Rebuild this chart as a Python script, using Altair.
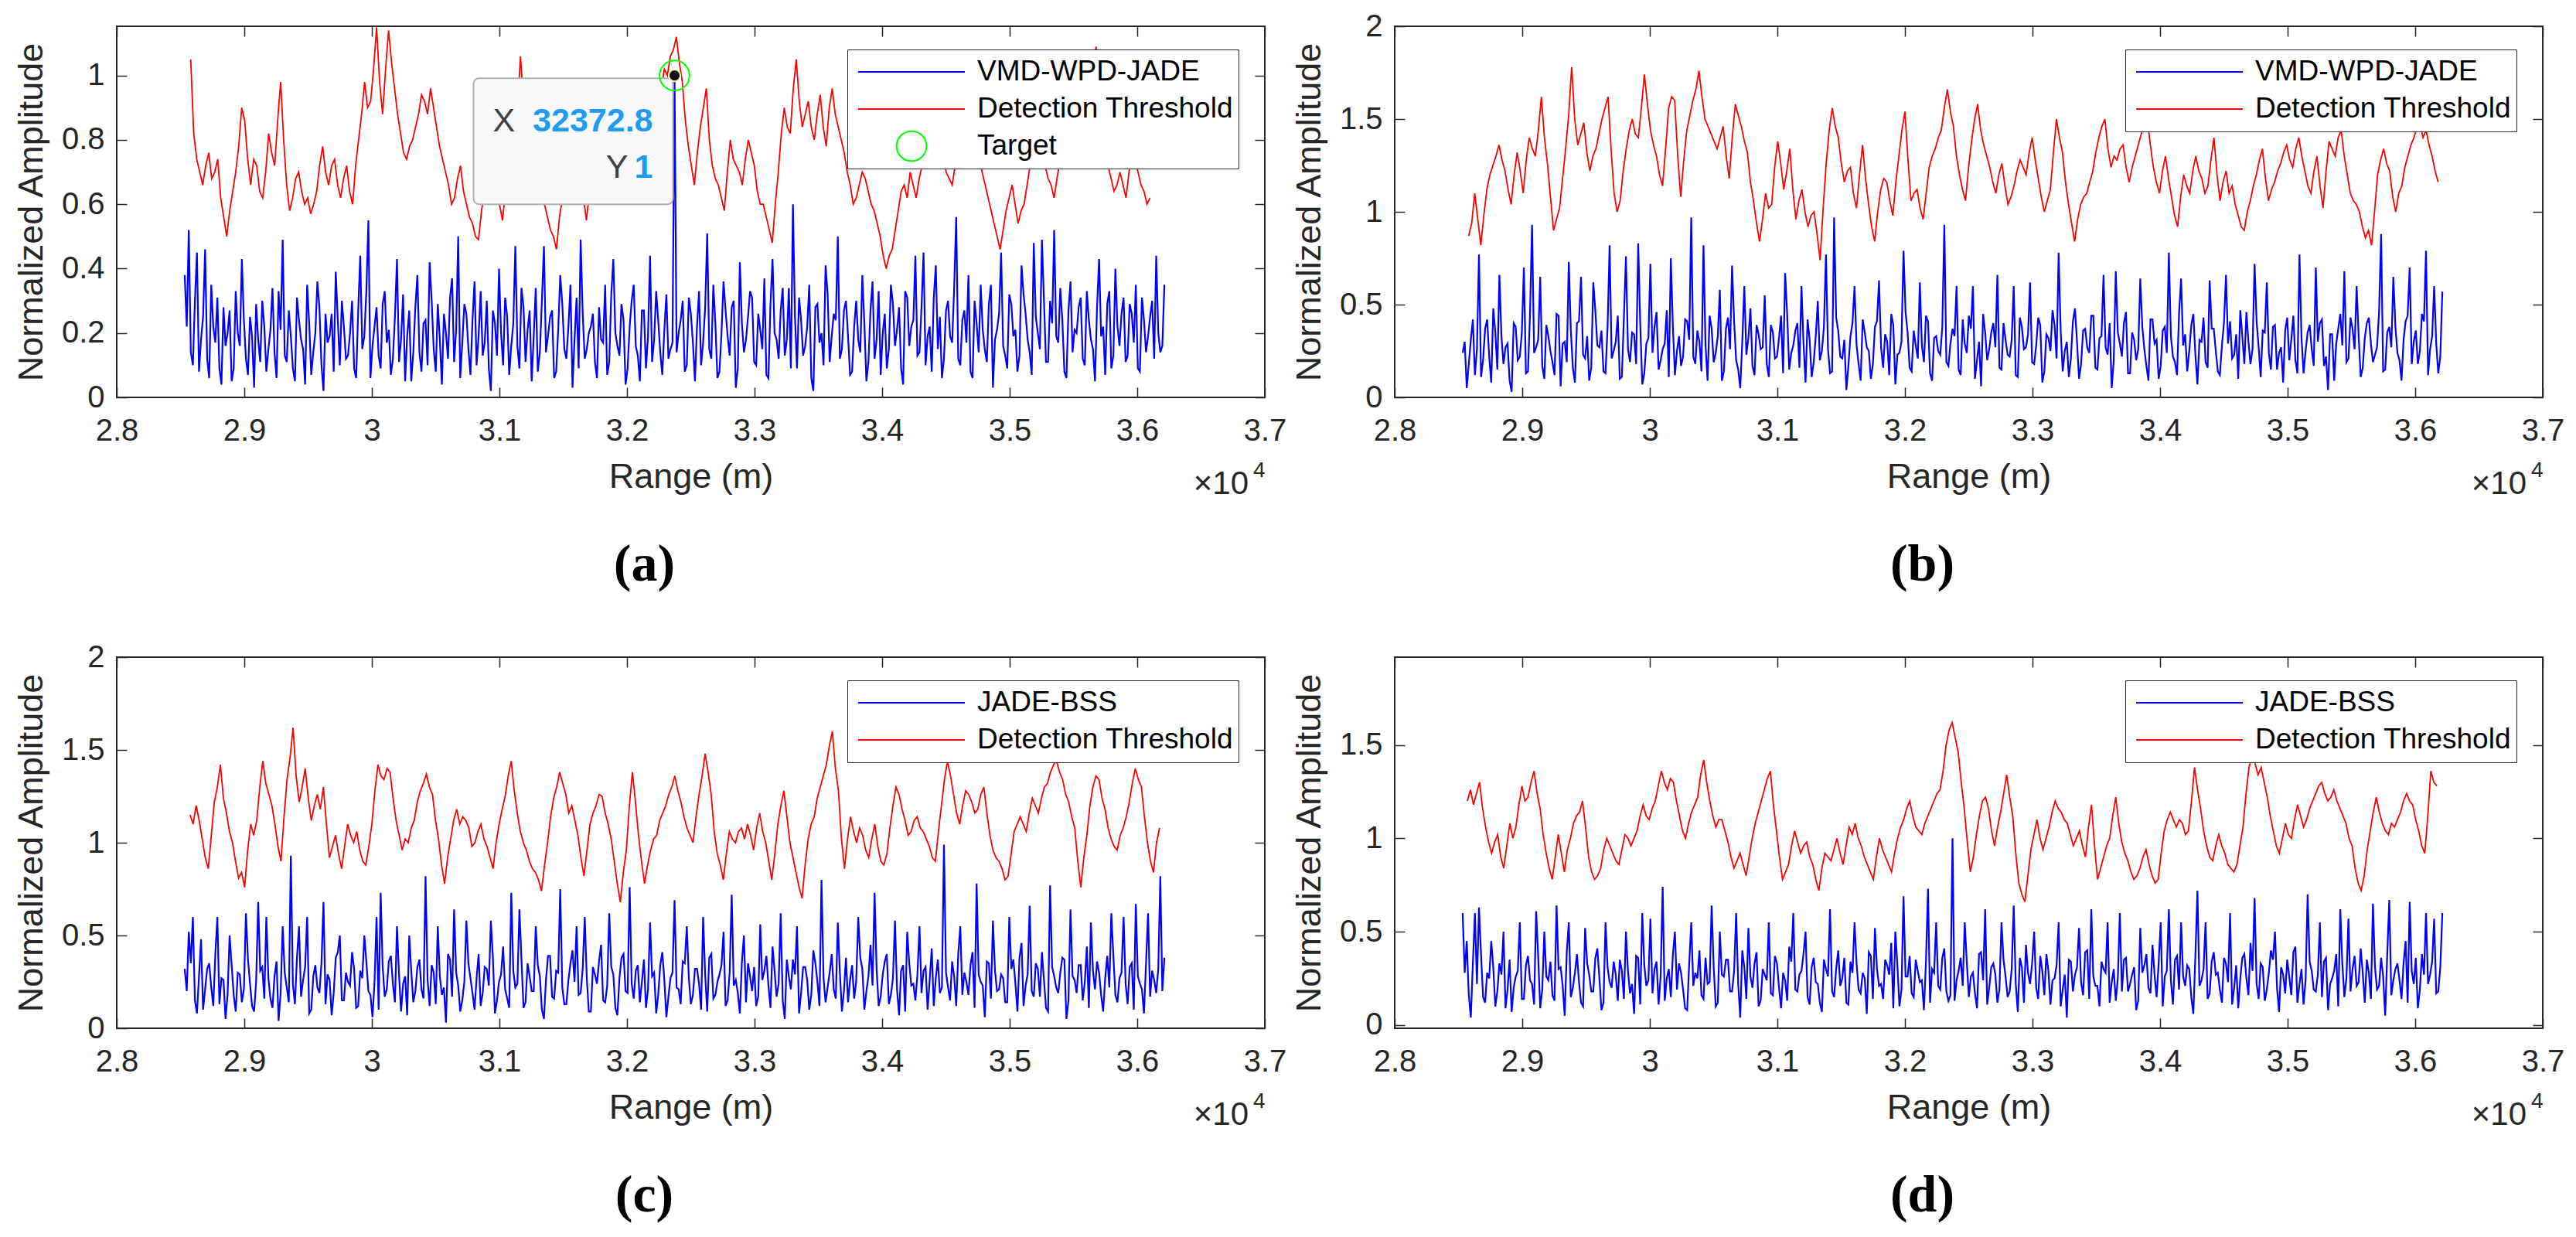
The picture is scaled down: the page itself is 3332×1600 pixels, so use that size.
import altair as alt
import pandas as pd

FONT = "Liberation Sans, Arial, Helvetica, sans-serif"
SERIF = "Liberation Serif, Times New Roman, serif"
TEXT_COLOR = "#262626"

W, H = 1485, 480
TICK = 13

X_DOMAIN = [28000, 37000]
X_TICKS = [28000, 29000, 30000, 31000, 32000, 33000, 34000, 35000, 36000, 37000]

Y_DOMAIN_A = [0, 1.153]
Y_TICKS_A = [0, 0.2, 0.4, 0.6, 0.8, 1.0]
Y_DOMAIN_B = [0, 2]
Y_TICKS_B = [0, 0.5, 1.0, 1.5, 2.0]
Y_DOMAIN_C = [0, 2]
Y_TICKS_C = [0, 0.5, 1.0, 1.5, 2.0]
Y_DOMAIN_D = [-0.017, 1.97]
Y_TICKS_D = [0, 0.5, 1.0, 1.5]

SERIES_TOP = "VMD-WPD-JADE"
SERIES_BOTTOM = "JADE-BSS"
THRESH = "Detection Threshold"
TARGET = "Target"
CAPTIONS = ["(a)", "(b)", "(c)", "(d)"]
EXP_BASE = "×10"
EXP_POWER = "4"

# range sampling grids (m); samples alternate between the main list and its *_mid list
BLUE_START = 28532.8
BLUE_STEP = 16.0
RED_START = {"a": 28580.0, "b": 28580.0, "c": 28575.0, "d": 28570.0}
RED_STEP = {"a": 23.5, "b": 23.75, "c": 23.75, "d": 23.75}

TARGET_X = [32372.8]
TARGET_Y = [1.0]

a_blue = [
    0.38, 0.52, 0.10, 0.45, 0.18, 0.46, 0.06, 0.22, 0.31, 0.04, 0.16, 0.27, 0.09, 0.20, 0.43, 0.12, 0.25, 0.03, 0.18, 0.30,
    0.08, 0.21, 0.14, 0.33, 0.49, 0.11, 0.19, 0.05, 0.24, 0.15, 0.35, 0.07, 0.20, 0.28, 0.02, 0.17, 0.26, 0.39, 0.10, 0.22,
    0.13, 0.30, 0.06, 0.44, 0.19, 0.55, 0.16, 0.28, 0.09, 0.33, 0.21, 0.12, 0.43, 0.18, 0.05, 0.27, 0.14, 0.38, 0.08, 0.24,
    0.42, 0.15, 0.29, 0.04, 0.20, 0.31, 0.11, 0.50, 0.17, 0.26, 0.07, 0.36, 0.19, 0.13, 0.30, 0.02, 0.23, 0.40, 0.10, 0.25,
    0.16, 0.47, 0.09, 0.28, 0.21, 0.05, 0.34, 0.14, 0.47, 0.19, 0.27, 0.08, 0.38, 0.15, 0.22, 0.03, 0.31, 0.49, 0.12, 0.20,
    0.26, 0.06, 0.18, 0.35, 0.11, 0.43, 0.16, 0.29, 0.04, 0.22, 0.35, 0.13, 0.27, 0.09, 0.44, 0.18, 0.24, 0.07, 0.32, 0.15,
    1.00,
    0.20, 0.30, 0.10, 0.26, 0.05, 0.33, 0.17, 0.51, 0.12, 0.23, 0.08, 0.36, 0.19, 0.28, 0.03, 0.42, 0.14, 0.25, 0.31,
    0.10, 0.21, 0.37, 0.06, 0.43, 0.18, 0.27, 0.13, 0.34, 0.60, 0.09, 0.24, 0.16, 0.35, 0.02, 0.29, 0.20, 0.41, 0.11, 0.26,
    0.50, 0.15, 0.30, 0.07, 0.22, 0.18, 0.38, 0.05, 0.27, 0.12, 0.33, 0.20, 0.09, 0.35, 0.16, 0.28, 0.04, 0.31, 0.22, 0.44,
    0.14, 0.45, 0.19, 0.08, 0.41, 0.25, 0.12, 0.30, 0.17, 0.56, 0.10, 0.27, 0.38, 0.06, 0.23, 0.35, 0.15, 0.29, 0.03, 0.21,
    0.45, 0.13, 0.32, 0.19, 0.08, 0.41, 0.26, 0.14, 0.48, 0.20, 0.49, 0.11, 0.30, 0.52, 0.17, 0.24, 0.06, 0.36, 0.21, 0.28,
    0.12, 0.33, 0.18, 0.05, 0.43, 0.22, 0.29, 0.09, 0.40, 0.16, 0.31, 0.13, 0.26, 0.35, 0.08, 0.24, 0.19, 0.30, 0.44, 0.14, 0.35,
]
a_mid = [
    0.22, 0.14, 0.30, 0.08, 0.25, 0.12, 0.35, 0.17, 0.09, 0.28, 0.20, 0.05, 0.33, 0.16, 0.24, 0.07, 0.19, 0.29, 0.11, 0.22,
    0.15, 0.34, 0.06, 0.21, 0.13, 0.27, 0.09, 0.31, 0.18, 0.04, 0.23, 0.14, 0.36, 0.10, 0.26, 0.19, 0.08, 0.24, 0.30, 0.12,
    0.20, 0.09, 0.27, 0.15, 0.33, 0.06, 0.22, 0.13, 0.29, 0.17, 0.07, 0.25, 0.11, 0.32, 0.19, 0.05, 0.28, 0.14, 0.23, 0.10,
    0.30, 0.08, 0.18, 0.26, 0.12, 0.37, 0.21, 0.06, 0.29, 0.15, 0.24, 0.10, 0.33, 0.17, 0.09, 0.27, 0.13, 0.20, 0.31, 0.07,
    0.23, 0.16, 0.34, 0.11, 0.27, 0.19, 0.08, 0.30, 0.14, 0.25, 0.06, 0.21, 0.29, 0.12, 0.35, 0.18, 0.09, 0.26, 0.15, 0.22,
    0.11, 0.28, 0.17, 0.07, 0.32, 0.20, 0.13, 0.24, 0.09, 0.30, 0.16, 0.05, 0.27, 0.19, 0.11, 0.33, 0.14, 0.21, 0.12, 0.17,
    0.14, 0.24, 0.08, 0.31, 0.17, 0.22, 0.10, 0.28, 0.15, 0.35, 0.06, 0.20, 0.27, 0.13, 0.30, 0.09, 0.23, 0.18, 0.33, 0.11,
    0.26, 0.15, 0.07, 0.29, 0.20, 0.12, 0.34, 0.18, 0.09, 0.25, 0.31, 0.13, 0.22, 0.06, 0.28, 0.17, 0.10, 0.32, 0.19, 0.24,
    0.12, 0.27, 0.19, 0.08, 0.30, 0.14, 0.23, 0.11, 0.36, 0.18, 0.07, 0.26, 0.15, 0.29, 0.21, 0.09, 0.33, 0.16, 0.24, 0.13,
    0.28, 0.10, 0.22, 0.31, 0.15, 0.06, 0.27, 0.19, 0.34, 0.12, 0.24, 0.17, 0.08, 0.30, 0.14, 0.21, 0.11, 0.35, 0.18, 0.26,
    0.16, 0.09, 0.29, 0.21, 0.13, 0.32, 0.18, 0.07, 0.25, 0.15, 0.30, 0.11, 0.23, 0.19, 0.34, 0.08, 0.27, 0.14, 0.20, 0.31,
    0.10, 0.24, 0.15, 0.28, 0.19, 0.07, 0.33, 0.13, 0.22, 0.26, 0.11, 0.29, 0.17, 0.09, 0.31, 0.14, 0.25, 0.12, 0.20, 0.16,
]

a_red = [
    1.05, 0.74, 0.66, 0.76, 0.70, 0.62, 0.50, 0.64, 0.78, 0.86,
    0.66, 0.72, 0.62, 0.82, 0.72, 0.98, 0.66, 0.62, 0.70, 0.60,
    0.57, 0.64, 0.78, 0.66, 0.74, 0.62, 0.72, 0.60, 0.80, 0.98,
    0.92, 1.15, 0.88, 1.14, 0.96, 0.82, 0.74, 0.80, 0.88, 0.92,
    0.96, 0.84, 0.74, 0.66, 0.62, 0.72, 0.60, 0.54, 0.49, 0.64,
    0.72, 0.64, 0.55, 0.70, 0.80, 1.06, 0.84, 0.72, 0.68, 0.60,
    0.52, 0.46, 0.62, 0.78, 0.99, 0.74, 0.55, 0.70, 0.80, 0.74,
    0.84, 0.76, 0.86, 0.78, 0.88, 0.82, 0.92, 0.86, 0.96, 1.02,
    1.06, 1.12, 0.98, 0.78, 0.66, 0.84, 0.96, 0.72, 0.66, 0.58,
    0.80, 0.72, 0.66, 0.80, 0.72, 0.60, 0.56, 0.48, 0.70, 0.90,
    0.82, 1.05, 0.84, 0.92, 0.80, 0.94, 0.78, 0.96, 0.84, 0.76,
    0.66, 0.62, 0.70, 0.64, 0.58, 0.50, 0.40, 0.46, 0.58, 0.66,
    0.70, 0.62, 0.72, 0.80, 0.90, 0.82, 0.70, 0.66, 0.76, 0.86,
    0.92, 0.80, 0.70, 0.62, 0.54, 0.46, 0.58, 0.66, 0.54, 0.60,
    0.72, 0.84, 0.76, 0.68, 0.62, 0.74, 0.86, 0.80, 0.92, 0.84,
    0.96, 1.09, 0.88, 0.72, 0.64, 0.70, 0.62, 0.78, 0.70, 0.64,
    0.62,
]
a_red_mid = [
    0.82, 0.70, 0.72, 0.68, 0.74, 0.56, 0.58, 0.70, 0.90, 0.74,
    0.74, 0.64, 0.70, 0.76, 0.86, 0.80, 0.58, 0.68, 0.64, 0.62,
    0.60, 0.72, 0.70, 0.72, 0.66, 0.68, 0.64, 0.72, 0.88, 0.90,
    1.02, 0.98, 1.02, 1.04, 0.88, 0.76, 0.78, 0.84, 0.94, 0.88,
    0.90, 0.78, 0.70, 0.60, 0.68, 0.64, 0.56, 0.50, 0.58, 0.68,
    0.66, 0.60, 0.64, 0.76, 0.90, 0.92, 0.76, 0.66, 0.64, 0.56,
    0.50, 0.56, 0.70, 0.88, 0.82, 0.62, 0.64, 0.76, 0.72, 0.80,
    0.78, 0.82, 0.80, 0.84, 0.80, 0.88, 0.84, 0.92, 0.96, 1.00,
    1.08, 1.04, 0.86, 0.72, 0.76, 0.90, 0.80, 0.68, 0.62, 0.70,
    0.74, 0.70, 0.74, 0.76, 0.64, 0.60, 0.52, 0.60, 0.82, 0.84,
    0.96, 0.92, 0.88, 0.84, 0.88, 0.84, 0.90, 0.88, 0.80, 0.70,
    0.60, 0.66, 0.68, 0.60, 0.54, 0.44, 0.44, 0.52, 0.64, 0.62,
    0.66, 0.68, 0.78, 0.84, 0.86, 0.76, 0.68, 0.72, 0.82, 0.90,
    0.86, 0.74, 0.66, 0.58, 0.50, 0.52, 0.62, 0.60, 0.58, 0.66,
    0.78, 0.80, 0.72, 0.66, 0.68, 0.80, 0.82, 0.86, 0.88, 0.90,
    1.00, 0.96, 0.80, 0.68, 0.66, 0.66, 0.70, 0.74, 0.66, 0.60,
]

b_blue = [
    0.24, 0.05, 0.31, 0.12, 0.77, 0.20, 0.42, 0.08, 0.35, 0.66, 0.18, 0.29, 0.03, 0.38, 0.22, 0.70, 0.14, 0.93, 0.27, 0.65,
    0.10, 0.33, 0.19, 0.45, 0.06, 0.30, 0.73, 0.16, 0.40, 0.65, 0.21, 0.09, 0.62, 0.28, 0.36, 0.13, 0.82, 0.25, 0.44, 0.11,
    0.76, 0.19, 0.34, 0.83, 0.07, 0.29, 0.72, 0.38, 0.15, 0.26, 0.47, 0.75, 0.12, 0.33, 0.22, 0.41, 0.97, 0.18, 0.30, 0.82,
    0.09, 0.37, 0.24, 0.58, 0.14, 0.43, 0.71, 0.20, 0.05, 0.60, 0.32, 0.17, 0.39, 0.26, 0.55, 0.11, 0.35, 0.22, 0.44, 0.67,
    0.15, 0.28, 0.40, 0.60, 0.08, 0.31, 0.19, 0.52, 0.25, 0.77, 0.13, 0.97, 0.36, 0.21, 0.04, 0.33, 0.60, 0.18, 0.42, 0.27,
    0.10, 0.38, 0.63, 0.16, 0.30, 0.45, 0.07, 0.24, 0.79, 0.35, 0.14, 0.28, 0.62, 0.19, 0.41, 0.09, 0.33, 0.23, 0.93, 0.17,
    0.37, 0.60, 0.12, 0.29, 0.44, 0.60, 0.20, 0.06, 0.35, 0.26, 0.40, 0.66, 0.15, 0.31, 0.22, 0.60, 0.11, 0.38, 0.27, 0.62,
    0.18, 0.43, 0.08, 0.34, 0.25, 0.39, 0.78, 0.14, 0.30, 0.21, 0.48, 0.10, 0.36, 0.27, 0.44, 0.16, 0.32, 0.66, 0.23, 0.05,
    0.68, 0.29, 0.40, 0.13, 0.35, 0.20, 0.64, 0.26, 0.09, 0.42, 0.31, 0.17, 0.38, 0.78, 0.22, 0.12, 0.64, 0.34, 0.25, 0.45,
    0.07, 0.30, 0.19, 0.63, 0.37, 0.14, 0.28, 0.66, 0.41, 0.23, 0.10, 0.33, 0.46, 0.18, 0.72, 0.27, 0.36, 0.62, 0.15, 0.39,
    0.24, 0.08, 0.43, 0.31, 0.20, 0.77, 0.13, 0.35, 0.26, 0.70, 0.40, 0.17, 0.04, 0.34, 0.29, 0.45, 0.68, 0.21, 0.37, 0.60,
    0.11, 0.32, 0.43, 0.19, 0.27, 0.88, 0.15, 0.38, 0.65, 0.24, 0.09, 0.41, 0.70, 0.30, 0.18, 0.45, 0.79, 0.26, 0.60, 0.13, 0.57,
]
b_mid = [
    0.30, 0.18, 0.42, 0.26, 0.11, 0.37, 0.22, 0.48, 0.15, 0.33, 0.27, 0.09, 0.40, 0.20, 0.35, 0.13, 0.45, 0.24, 0.31, 0.17,
    0.39, 0.25, 0.12, 0.44, 0.29, 0.19, 0.36, 0.08, 0.41, 0.23, 0.33, 0.16, 0.47, 0.27, 0.14, 0.38, 0.21, 0.30, 0.10, 0.43,
    0.26, 0.35, 0.18, 0.40, 0.13, 0.32, 0.24, 0.46, 0.20, 0.29, 0.11, 0.38, 0.25, 0.17, 0.42, 0.31, 0.22, 0.36, 0.14, 0.28,
    0.44, 0.19, 0.33, 0.09, 0.37, 0.26, 0.41, 0.15, 0.30, 0.23, 0.48, 0.12, 0.34, 0.27, 0.18, 0.39, 0.21, 0.32, 0.13, 0.45,
    0.24, 0.36, 0.16, 0.29, 0.42, 0.11, 0.33, 0.20, 0.38, 0.26, 0.14, 0.43, 0.22, 0.31, 0.17, 0.40, 0.28, 0.09, 0.35, 0.25,
    0.18, 0.41, 0.27, 0.34, 0.12, 0.39, 0.23, 0.30, 0.46, 0.16, 0.36, 0.21, 0.28, 0.44, 0.13, 0.32, 0.25, 0.38, 0.19, 0.29,
    0.33, 0.15, 0.42, 0.24, 0.37, 0.10, 0.30, 0.45, 0.20, 0.35, 0.27, 0.16, 0.40, 0.23, 0.31, 0.12, 0.43, 0.26, 0.34, 0.19,
    0.28, 0.39, 0.14, 0.32, 0.47, 0.21, 0.36, 0.25, 0.11, 0.41, 0.30, 0.18, 0.37, 0.24, 0.44, 0.15, 0.33, 0.27, 0.40, 0.20,
    0.35, 0.22, 0.46, 0.13, 0.31, 0.26, 0.38, 0.17, 0.42, 0.29, 0.10, 0.36, 0.24, 0.33, 0.19, 0.45, 0.28, 0.14, 0.39, 0.23,
    0.31, 0.43, 0.16, 0.37, 0.25, 0.12, 0.40, 0.29, 0.21, 0.34, 0.47, 0.18, 0.30, 0.26, 0.41, 0.11, 0.35, 0.24, 0.38, 0.15,
    0.27, 0.36, 0.20, 0.44, 0.13, 0.32, 0.25, 0.39, 0.17, 0.30, 0.42, 0.22, 0.34, 0.09, 0.37, 0.28, 0.19, 0.43, 0.26, 0.33,
    0.16, 0.40, 0.29, 0.23, 0.46, 0.14, 0.35, 0.27, 0.38, 0.20, 0.31, 0.44, 0.18, 0.36, 0.25, 0.41, 0.12, 0.33, 0.29, 0.22,
]

b_red = [
    0.87, 1.10, 0.82, 1.12, 1.25, 1.36, 1.22, 1.04, 1.32, 1.10,
    1.40, 1.30, 1.62, 1.26, 0.90, 1.02, 1.34, 1.78, 1.36, 1.48,
    1.22, 1.34, 1.50, 1.62, 1.10, 1.06, 1.34, 1.50, 1.40, 1.74,
    1.44, 1.30, 1.14, 1.56, 1.60, 1.08, 1.44, 1.60, 1.76, 1.50,
    1.42, 1.34, 1.46, 1.18, 1.58, 1.46, 1.32, 1.06, 0.84, 1.10,
    1.04, 1.38, 1.12, 1.34, 0.96, 1.12, 0.92, 1.00, 0.74, 1.26,
    1.56, 1.40, 1.16, 1.24, 1.02, 1.36, 1.04, 0.84, 1.12, 1.16,
    0.98, 1.30, 1.54, 1.06, 1.12, 0.96, 1.24, 1.34, 1.44, 1.66,
    1.46, 1.20, 1.06, 1.38, 1.58, 1.36, 1.24, 1.10, 1.26, 1.04,
    1.14, 1.28, 1.20, 1.40, 1.18, 1.00, 1.12, 1.50, 1.32, 1.04,
    0.84, 1.04, 1.10, 1.22, 1.40, 1.50, 1.24, 1.28, 1.36, 1.16,
    1.30, 1.42, 1.50, 1.24, 1.10, 1.30, 1.08, 0.92, 1.20, 1.10,
    1.30, 1.18, 1.14, 1.40, 1.06, 1.22, 1.14, 0.98, 0.90, 1.06,
    1.20, 1.34, 1.06, 1.16, 1.26, 1.36, 1.24, 1.40, 1.22, 1.10,
    1.30, 1.02, 1.38, 1.30, 1.44, 1.20, 1.06, 1.00, 0.86, 0.82,
    1.20, 1.34, 1.22, 1.00, 1.14, 1.30, 1.40, 1.48, 1.44, 1.30,
    1.16,
]
b_red_mid = [
    0.94, 0.96, 0.98, 1.20, 1.30, 1.28, 1.12, 1.20, 1.22, 1.28,
    1.34, 1.44, 1.40, 1.08, 0.96, 1.18, 1.52, 1.50, 1.42, 1.32,
    1.30, 1.42, 1.56, 1.34, 1.00, 1.22, 1.44, 1.42, 1.56, 1.58,
    1.36, 1.20, 1.34, 1.62, 1.30, 1.28, 1.52, 1.66, 1.62, 1.46,
    1.38, 1.40, 1.30, 1.40, 1.52, 1.38, 1.16, 0.94, 0.96, 1.02,
    1.24, 1.26, 1.22, 1.12, 1.06, 1.00, 0.98, 0.88, 1.02, 1.44,
    1.46, 1.26, 1.22, 1.10, 1.20, 1.18, 0.92, 1.00, 1.18, 1.06,
    1.16, 1.44, 1.28, 1.10, 1.02, 1.10, 1.30, 1.40, 1.56, 1.54,
    1.30, 1.12, 1.24, 1.50, 1.44, 1.30, 1.16, 1.20, 1.14, 1.08,
    1.22, 1.24, 1.32, 1.28, 1.08, 1.06, 1.32, 1.40, 1.16, 0.94,
    0.96, 1.08, 1.16, 1.32, 1.46, 1.34, 1.30, 1.34, 1.24, 1.24,
    1.36, 1.48, 1.36, 1.16, 1.22, 1.18, 0.98, 1.08, 1.14, 1.22,
    1.22, 1.10, 1.28, 1.20, 1.16, 1.10, 1.04, 0.92, 1.00, 1.14,
    1.28, 1.18, 1.12, 1.22, 1.32, 1.28, 1.34, 1.30, 1.14, 1.22,
    1.14, 1.22, 1.34, 1.40, 1.30, 1.10, 1.04, 0.92, 0.90, 1.00,
    1.28, 1.26, 1.08, 1.10, 1.24, 1.36, 1.46, 1.40, 1.36, 1.22,
]

c_blue = [
    0.32, 0.52, 0.60, 0.08, 0.48, 0.21, 0.35, 0.12, 0.60, 0.27, 0.05, 0.50, 0.18, 0.30, 0.14, 0.62, 0.24, 0.09, 0.68, 0.33,
    0.60, 0.16, 0.28, 0.04, 0.55, 0.22, 0.93, 0.13, 0.55, 0.26, 0.60, 0.10, 0.34, 0.19, 0.68, 0.29, 0.07, 0.38, 0.50, 0.15,
    0.25, 0.41, 0.11, 0.31, 0.50, 0.20, 0.06, 0.60, 0.73, 0.17, 0.36, 0.24, 0.55, 0.09, 0.28, 0.50, 0.14, 0.33, 0.21, 0.82,
    0.12, 0.30, 0.55, 0.18, 0.03, 0.37, 0.64, 0.23, 0.15, 0.58, 0.27, 0.10, 0.40, 0.19, 0.32, 0.58, 0.08, 0.25, 0.44, 0.16,
    0.73, 0.22, 0.64, 0.11, 0.35, 0.20, 0.55, 0.28, 0.05, 0.39, 0.17, 0.31, 0.75, 0.13, 0.26, 0.42, 0.55, 0.19, 0.60, 0.09,
    0.33, 0.24, 0.45, 0.14, 0.62, 0.29, 0.07, 0.38, 0.20, 0.76, 0.16, 0.34, 0.25, 0.11, 0.57, 0.30, 0.18, 0.41, 0.06, 0.27,
    0.69, 0.21, 0.36, 0.55, 0.13, 0.32, 0.24, 0.60, 0.09, 0.40, 0.18, 0.29, 0.52, 0.15, 0.72, 0.26, 0.08, 0.50, 0.35, 0.20,
    0.12, 0.56, 0.31, 0.23, 0.44, 0.17, 0.62, 0.05, 0.28, 0.37, 0.55, 0.19, 0.33, 0.10, 0.42, 0.25, 0.80, 0.14, 0.30, 0.21,
    0.57, 0.09, 0.38, 0.26, 0.16, 0.60, 0.32, 0.20, 0.45, 0.73, 0.12, 0.29, 0.40, 0.18, 0.58, 0.07, 0.34, 0.52, 0.23, 0.15,
    0.55, 0.31, 0.10, 0.43, 0.27, 0.19, 0.99, 0.22, 0.36, 0.12, 0.55, 0.30, 0.18, 0.41, 0.78, 0.25, 0.06, 0.35, 0.58, 0.20,
    0.29, 0.14, 0.60, 0.37, 0.09, 0.46, 0.23, 0.66, 0.17, 0.32, 0.41, 0.11, 0.77, 0.28, 0.19, 0.38, 0.05, 0.64, 0.26, 0.34,
    0.15, 0.44, 0.57, 0.21, 0.30, 0.09, 0.39, 0.62, 0.18, 0.27, 0.60, 0.13, 0.35, 0.67, 0.24, 0.08, 0.62, 0.31, 0.19, 0.82, 0.38,
]
c_mid = [
    0.20, 0.35, 0.15, 0.28, 0.10, 0.32, 0.22, 0.40, 0.13, 0.26, 0.18, 0.34, 0.09, 0.29, 0.21, 0.37, 0.12, 0.25, 0.31, 0.16,
    0.27, 0.11, 0.36, 0.19, 0.30, 0.14, 0.24, 0.38, 0.17, 0.33, 0.08, 0.28, 0.22, 0.35, 0.13, 0.26, 0.19, 0.41, 0.15, 0.30,
    0.23, 0.32, 0.12, 0.27, 0.36, 0.18, 0.25, 0.10, 0.33, 0.21, 0.39, 0.14, 0.29, 0.24, 0.07, 0.31, 0.20, 0.37, 0.16, 0.26,
    0.34, 0.13, 0.28, 0.22, 0.40, 0.17, 0.30, 0.09, 0.25, 0.35, 0.19, 0.27, 0.12, 0.33, 0.23, 0.38, 0.15, 0.29, 0.21, 0.11,
    0.31, 0.24, 0.37, 0.14, 0.28, 0.20, 0.34, 0.10, 0.26, 0.39, 0.16, 0.30, 0.22, 0.13, 0.35, 0.25, 0.18, 0.32, 0.27, 0.09,
    0.29, 0.36, 0.15, 0.23, 0.33, 0.11, 0.27, 0.40, 0.19, 0.24, 0.31, 0.14, 0.37, 0.21, 0.28, 0.08, 0.34, 0.26, 0.17, 0.30,
    0.22, 0.13, 0.35, 0.27, 0.18, 0.32, 0.10, 0.29, 0.38, 0.16, 0.25, 0.34, 0.12, 0.30, 0.23, 0.19, 0.36, 0.14, 0.28, 0.33,
    0.17, 0.26, 0.39, 0.11, 0.31, 0.24, 0.15, 0.37, 0.21, 0.29, 0.08, 0.33, 0.26, 0.18, 0.35, 0.12, 0.27, 0.22, 0.40, 0.16,
    0.30, 0.20, 0.14, 0.34, 0.25, 0.38, 0.10, 0.28, 0.23, 0.32, 0.17, 0.36, 0.13, 0.27, 0.21, 0.31, 0.09, 0.35, 0.24, 0.29,
    0.19, 0.33, 0.26, 0.12, 0.37, 0.22, 0.30, 0.15, 0.28, 0.40, 0.18, 0.25, 0.34, 0.11, 0.29, 0.23, 0.36, 0.16, 0.31, 0.21,
    0.27, 0.14, 0.32, 0.24, 0.38, 0.12, 0.29, 0.20, 0.35, 0.17, 0.26, 0.09, 0.33, 0.22, 0.30, 0.37, 0.15, 0.28, 0.19, 0.34,
    0.25, 0.11, 0.31, 0.36, 0.18, 0.27, 0.22, 0.39, 0.14, 0.30, 0.24, 0.33, 0.10, 0.28, 0.21, 0.35, 0.17, 0.26, 0.32, 0.20,
]

c_red = [
    1.15, 1.20, 1.02, 0.86, 1.22, 1.42, 1.16, 1.00, 0.81, 0.76,
    1.10, 1.12, 1.44, 1.26, 1.10, 0.90, 1.34, 1.62, 1.22, 1.40,
    1.12, 1.26, 1.30, 0.92, 1.04, 0.86, 1.10, 1.00, 0.96, 0.88,
    1.10, 1.42, 1.34, 1.38, 1.12, 0.96, 1.00, 1.12, 1.28, 1.37,
    1.26, 1.02, 0.78, 1.02, 1.18, 1.14, 1.08, 1.00, 1.10, 0.98,
    0.86, 1.10, 1.25, 1.44, 1.16, 1.00, 0.90, 0.84, 0.74, 1.00,
    1.24, 1.38, 1.26, 1.20, 1.04, 0.82, 1.10, 1.20, 1.25, 1.10,
    0.90, 0.68, 0.96, 1.38, 1.04, 0.78, 0.96, 1.04, 1.16, 1.26,
    1.36, 1.22, 1.08, 1.00, 1.26, 1.48, 1.26, 0.94, 0.80, 1.06,
    1.00, 1.08, 1.10, 0.96, 1.16, 1.00, 0.80, 1.10, 1.28, 1.00,
    0.84, 0.70, 1.02, 1.14, 1.30, 1.42, 1.60, 1.28, 0.86, 1.14,
    1.00, 1.04, 0.92, 1.10, 0.90, 0.94, 1.20, 1.26, 1.12, 1.06,
    1.14, 1.06, 0.98, 0.90, 1.20, 1.44, 1.26, 1.10, 1.28, 1.22,
    1.18, 1.30, 1.04, 0.92, 0.86, 0.82, 1.06, 1.14, 1.06, 1.24,
    1.16, 1.30, 1.38, 1.44, 1.34, 1.22, 1.08, 0.76, 1.04, 1.30,
    1.34, 1.18, 1.02, 0.96, 1.08, 1.22, 1.40, 1.30, 1.00, 0.84,
    1.08,
]
c_red_mid = [
    1.10, 1.12, 0.92, 1.04, 1.30, 1.24, 1.06, 0.90, 0.84, 0.96,
    1.04, 1.30, 1.32, 1.20, 0.98, 1.14, 1.46, 1.36, 1.30, 1.24,
    1.20, 1.18, 1.10, 0.98, 0.94, 0.98, 1.04, 1.06, 0.90, 0.98,
    1.28, 1.36, 1.40, 1.24, 1.04, 1.02, 1.08, 1.22, 1.32, 1.30,
    1.12, 0.88, 0.92, 1.12, 1.10, 1.12, 0.98, 1.06, 1.02, 0.92,
    1.00, 1.18, 1.36, 1.28, 1.06, 0.96, 0.86, 0.80, 0.88, 1.14,
    1.30, 1.32, 1.16, 1.12, 0.92, 0.96, 1.16, 1.26, 1.16, 1.02,
    0.78, 0.84, 1.20, 1.22, 0.90, 0.88, 1.02, 1.12, 1.20, 1.30,
    1.28, 1.14, 1.04, 1.14, 1.36, 1.38, 1.06, 0.88, 0.94, 1.02,
    1.06, 1.02, 1.04, 1.08, 1.06, 0.90, 0.94, 1.20, 1.14, 0.92,
    0.76, 0.88, 1.10, 1.24, 1.36, 1.52, 1.40, 1.02, 1.02, 1.06,
    1.08, 0.96, 1.02, 0.98, 0.88, 1.08, 1.30, 1.18, 1.04, 1.12,
    1.08, 1.02, 0.92, 1.06, 1.34, 1.36, 1.16, 1.20, 1.26, 1.16,
    1.26, 1.16, 0.96, 0.90, 0.80, 0.94, 1.10, 1.10, 1.16, 1.20,
    1.24, 1.32, 1.42, 1.38, 1.26, 1.14, 0.90, 0.92, 1.20, 1.36,
    1.24, 1.08, 0.98, 1.04, 1.14, 1.32, 1.34, 1.14, 0.90, 1.00,
]

d_blue = [
    0.60, 0.45, 0.04, 0.60, 0.63, 0.15, 0.28, 0.45, 0.10, 0.33, 0.50, 0.19, 0.07, 0.26, 0.55, 0.14, 0.37, 0.22, 0.61, 0.09,
    0.50, 0.24, 0.16, 0.64, 0.31, 0.05, 0.55, 0.20, 0.38, 0.12, 0.52, 0.27, 0.18, 0.41, 0.08, 0.55, 0.23, 0.34, 0.13, 0.29,
    0.50, 0.17, 0.06, 0.36, 0.60, 0.21, 0.57, 0.30, 0.11, 0.74, 0.25, 0.15, 0.50, 0.33, 0.19, 0.08, 0.55, 0.28, 0.40, 0.14,
    0.22, 0.64, 0.10, 0.50, 0.26, 0.35, 0.18, 0.60, 0.04, 0.31, 0.52, 0.20, 0.39, 0.13, 0.27, 0.55, 0.16, 0.33, 0.09, 0.24,
    0.42, 0.60, 0.18, 0.29, 0.50, 0.11, 0.36, 0.22, 0.07, 0.30, 0.62, 0.15, 0.40, 0.25, 0.12, 0.34, 0.55, 0.19, 0.28, 0.06,
    0.37, 0.52, 0.21, 0.14, 0.32, 0.44, 0.50, 0.10, 0.69, 0.26, 0.17, 0.35, 0.23, 0.08, 0.73, 0.30, 0.55, 0.19, 0.41, 0.13,
    1.00, 0.24, 0.36, 0.55, 0.15, 0.28, 0.09, 0.39, 0.62, 0.20, 0.33, 0.12, 0.55, 0.26, 0.18, 0.64, 0.07, 0.31, 0.43, 0.22,
    0.50, 0.14, 0.29, 0.38, 0.11, 0.25, 0.55, 0.19, 0.04, 0.34, 0.27, 0.52, 0.16, 0.40, 0.62, 0.21, 0.10, 0.30, 0.55, 0.23,
    0.13, 0.60, 0.35, 0.18, 0.27, 0.08, 0.52, 0.32, 0.20, 0.43, 0.15, 0.55, 0.26, 0.62, 0.11, 0.37, 0.55, 0.21, 0.30, 0.06,
    0.72, 0.24, 0.55, 0.17, 0.39, 0.28, 0.12, 0.33, 0.60, 0.20, 0.09, 0.36, 0.25, 0.44, 0.68, 0.14, 0.31, 0.19, 0.40, 0.50,
    0.07, 0.27, 0.35, 0.16, 0.42, 0.22, 0.11, 0.70, 0.29, 0.18, 0.55, 0.34, 0.08, 0.25, 0.38, 0.62, 0.15, 0.57, 0.30, 0.21,
    0.41, 0.12, 0.28, 0.65, 0.19, 0.36, 0.05, 0.67, 0.24, 0.33, 0.14, 0.45, 0.66, 0.22, 0.09, 0.38, 0.60, 0.27, 0.57, 0.18, 0.60,
]
d_mid = [
    0.28, 0.16, 0.33, 0.22, 0.38, 0.12, 0.25, 0.31, 0.18, 0.27, 0.09, 0.35, 0.20, 0.29, 0.14, 0.32, 0.24, 0.11, 0.37, 0.19,
    0.26, 0.34, 0.13, 0.30, 0.21, 0.39, 0.15, 0.28, 0.23, 0.10, 0.33, 0.18, 0.36, 0.25, 0.12, 0.31, 0.20, 0.27, 0.35, 0.14,
    0.29, 0.22, 0.37, 0.11, 0.32, 0.24, 0.17, 0.34, 0.26, 0.13, 0.30, 0.38, 0.19, 0.28, 0.09, 0.33, 0.21, 0.25, 0.16, 0.36,
    0.23, 0.31, 0.12, 0.27, 0.35, 0.18, 0.29, 0.22, 0.40, 0.14, 0.26, 0.33, 0.10, 0.30, 0.24, 0.17, 0.37, 0.20, 0.28, 0.13,
    0.34, 0.19, 0.27, 0.38, 0.15, 0.31, 0.23, 0.12, 0.35, 0.26, 0.18, 0.30, 0.21, 0.36, 0.11, 0.28, 0.33, 0.17, 0.25, 0.39,
    0.14, 0.30, 0.22, 0.35, 0.27, 0.09, 0.32, 0.19, 0.26, 0.37, 0.15, 0.29, 0.24, 0.34, 0.12, 0.28, 0.21, 0.36, 0.18, 0.16,
    0.13, 0.29, 0.21, 0.34, 0.26, 0.17, 0.38, 0.24, 0.11, 0.31, 0.27, 0.19, 0.35, 0.15, 0.30, 0.22, 0.36, 0.12, 0.28, 0.33,
    0.20, 0.37, 0.16, 0.29, 0.24, 0.32, 0.10, 0.27, 0.35, 0.18, 0.31, 0.23, 0.39, 0.14, 0.26, 0.21, 0.34, 0.28, 0.12, 0.30,
    0.25, 0.18, 0.36, 0.22, 0.31, 0.13, 0.28, 0.38, 0.17, 0.27, 0.33, 0.10, 0.29, 0.24, 0.35, 0.19, 0.26, 0.32, 0.15, 0.37,
    0.21, 0.30, 0.14, 0.34, 0.27, 0.19, 0.36, 0.23, 0.11, 0.32, 0.25, 0.38, 0.16, 0.29, 0.22, 0.33, 0.13, 0.28, 0.35, 0.20,
    0.31, 0.17, 0.26, 0.39, 0.12, 0.30, 0.24, 0.34, 0.19, 0.27, 0.15, 0.36, 0.22, 0.29, 0.10, 0.33, 0.25, 0.18, 0.37, 0.23,
    0.28, 0.35, 0.14, 0.31, 0.21, 0.26, 0.38, 0.16, 0.30, 0.24, 0.33, 0.12, 0.29, 0.36, 0.19, 0.27, 0.22, 0.34, 0.17, 0.31,
]

d_red = [
    1.20, 1.18, 1.30, 1.06, 0.92, 1.02, 0.84, 1.08, 1.06, 1.28,
    1.22, 1.36, 1.16, 0.92, 0.78, 1.02, 0.82, 1.00, 1.12, 1.20,
    0.90, 0.78, 0.84, 1.00, 0.92, 0.86, 1.02, 0.96, 1.04, 1.18,
    1.10, 1.20, 1.36, 1.26, 1.30, 1.12, 1.00, 1.14, 1.22, 1.42,
    1.20, 1.06, 1.10, 0.98, 0.84, 0.92, 0.80, 1.00, 1.14, 1.26,
    1.36, 1.04, 0.78, 0.86, 1.04, 0.92, 0.98, 0.86, 0.72, 0.92,
    0.88, 1.00, 0.86, 1.06, 1.08, 0.96, 0.86, 0.78, 1.00, 0.90,
    0.82, 1.00, 1.10, 1.20, 1.06, 1.02, 1.12, 1.20, 1.26, 1.50,
    1.62, 1.46, 1.16, 0.82, 1.02, 1.20, 1.16, 0.96, 1.14, 1.34,
    1.12, 0.76, 0.66, 0.94, 1.10, 0.94, 1.06, 1.20, 1.14, 1.08,
    0.96, 1.04, 0.90, 1.18, 0.78, 0.90, 1.00, 1.22, 0.98, 0.88,
    0.78, 0.84, 0.94, 0.80, 0.78, 1.04, 1.14, 1.06, 1.08, 1.04,
    1.38, 1.16, 0.96, 0.88, 1.02, 0.92, 0.84, 0.86, 1.06, 1.38,
    1.40, 1.38, 1.22, 1.04, 0.92, 1.08, 1.00, 1.18, 1.06, 1.16,
    1.24, 1.30, 1.20, 1.26, 1.16, 1.08, 0.96, 0.76, 0.80, 1.04,
    1.22, 1.08, 1.02, 1.06, 1.14, 1.24, 1.18, 1.04, 0.92, 1.36,
    1.28,
]
d_red_mid = [
    1.26, 1.24, 1.16, 0.98, 0.98, 0.90, 0.96, 1.00, 1.18, 1.20,
    1.30, 1.24, 1.02, 0.84, 0.90, 0.92, 0.94, 1.08, 1.14, 1.06,
    0.82, 0.80, 0.94, 0.96, 0.88, 0.94, 1.00, 1.00, 1.12, 1.12,
    1.16, 1.28, 1.30, 1.32, 1.20, 1.04, 1.08, 1.18, 1.34, 1.30,
    1.12, 1.10, 1.04, 0.90, 0.88, 0.86, 0.90, 1.08, 1.20, 1.32,
    1.18, 0.90, 0.82, 0.96, 0.98, 0.96, 0.90, 0.78, 0.84, 0.90,
    0.94, 0.92, 0.96, 1.02, 1.00, 0.90, 0.82, 0.90, 0.94, 0.86,
    0.92, 1.06, 1.16, 1.12, 1.04, 1.08, 1.16, 1.24, 1.36, 1.58,
    1.54, 1.30, 0.98, 0.90, 1.12, 1.22, 1.04, 1.06, 1.24, 1.22,
    0.92, 0.70, 0.80, 1.02, 1.00, 1.00, 1.14, 1.16, 1.10, 1.02,
    1.00, 0.96, 1.06, 0.96, 0.84, 0.96, 1.12, 1.08, 0.92, 0.82,
    0.80, 0.90, 0.86, 0.76, 0.92, 1.10, 1.10, 1.10, 1.02, 1.20,
    1.26, 1.04, 0.90, 0.96, 0.96, 0.86, 0.82, 0.96, 1.24, 1.44,
    1.34, 1.30, 1.12, 0.96, 1.00, 1.02, 1.10, 1.12, 1.10, 1.20,
    1.28, 1.24, 1.22, 1.20, 1.12, 1.00, 0.84, 0.72, 0.94, 1.14,
    1.14, 1.04, 1.08, 1.10, 1.20, 1.20, 1.10, 0.96, 1.12, 1.30,
]


def series_df(start, step, main_vals, mid_vals, name):
    ys = []
    for i, v in enumerate(main_vals):
        ys.append(v)
        if i < len(mid_vals):
            ys.append(mid_vals[i])
    return pd.DataFrame({
        "x": [start + step * k for k in range(len(ys))],
        "y": ys,
        "series": [name] * len(ys),
    })


def panel(blue_vals, mid_vals, red_vals, red_mid_vals, key, blue_name, ydom, yticks,
          caption, with_target=False):
    names = [blue_name, THRESH] + ([TARGET] if with_target else [])
    colors = ["#0000ff", "#ff0000"] + (["#00ff00"] if with_target else [])
    legend = alt.Legend(title=None, orient="none", legendX=945, legendY=30)
    color = alt.Color("series:N", scale=alt.Scale(domain=names, range=colors), legend=legend)
    xs = alt.Scale(domain=X_DOMAIN, nice=False, zero=False)
    ys = alt.Scale(domain=ydom, nice=False, zero=False)

    ax_bottom = alt.Axis(orient="bottom", values=X_TICKS,
                         labelExpr="format(datum.value / 10000, '~g')",
                         offset=-TICK, tickSize=TICK, domain=False, grid=False,
                         labelPadding=23, labelOverlap=False, labelFlush=False,
                         title="Range (m)", titleX=W / 2, titleY=116 + TICK,
                         titleBaseline="alphabetic")
    ax_left = alt.Axis(orient="left", values=yticks, format="~g",
                       offset=-TICK, tickSize=TICK, domain=False, grid=False,
                       labelPadding=16, labelOverlap=False, labelFlush=False,
                       title="Normalized Amplitude", titleX=-97 - TICK, titleY=H / 2,
                       titleBaseline="alphabetic")
    ax_top = alt.Axis(orient="top", values=X_TICKS, labels=False, offset=-TICK,
                      tickSize=TICK, domain=False, grid=False, title=None)
    ax_right = alt.Axis(orient="right", values=yticks, labels=False, offset=-TICK,
                        tickSize=TICK, domain=False, grid=False, title=None)

    blue = alt.Chart(series_df(BLUE_START, BLUE_STEP, blue_vals, mid_vals, blue_name)).mark_line(
        strokeWidth=2.2).encode(
        x=alt.X("x:Q", scale=xs, axis=ax_bottom),
        y=alt.Y("y:Q", scale=ys, axis=ax_left),
        color=color)
    red = alt.Chart(series_df(RED_START[key], RED_STEP[key], red_vals, red_mid_vals, THRESH)).mark_line(
        strokeWidth=1.8).encode(
        x=alt.X("x:Q", scale=xs, axis=ax_top),
        y=alt.Y("y:Q", scale=ys, axis=ax_right),
        color=color)
    layers = [blue, red]

    if with_target:
        tdf = pd.DataFrame({"x": TARGET_X, "y": TARGET_Y, "series": [TARGET]})
        base = alt.Chart(tdf)
        ex = alt.X("x:Q", scale=xs, axis=None)
        ey = alt.Y("y:Q", scale=ys, axis=None)
        shape = alt.Shape("series:N", scale=alt.Scale(domain=names, range=["stroke", "stroke", "circle"]),
                          legend=legend)
        size = alt.Size("series:N", scale=alt.Scale(type="ordinal", domain=names,
                                                    range=[19044, 19044, 1500]),
                        legend=legend)
        tip_box = base.mark_rect(width=258, height=163, xOffset=-131, yOffset=85,
                                 cornerRadius=7, fill="#f9f9fb", stroke="#b0b0b0",
                                 strokeWidth=2).encode(x=ex, y=ey)
        ring = base.mark_point(filled=False, strokeWidth=2, opacity=1).encode(
            x=ex, y=ey, color=color, shape=shape, size=size)
        dot = base.mark_point(shape="circle", filled=True, size=230, fill="#141414",
                              stroke="#fff6c8", strokeWidth=2, opacity=1).encode(x=ex, y=ey)
        t1 = base.mark_text(align="left", baseline="alphabetic", dx=-235, dy=72,
                            font=FONT, fontSize=43, color="#404040").encode(
            x=ex, y=ey, text=alt.value("X"))
        t2 = base.mark_text(align="right", baseline="alphabetic", dx=-28, dy=72,
                            font=FONT, fontSize=43, fontWeight="bold", color="#1c9cf2").encode(
            x=ex, y=ey, text=alt.Text("x:Q", format=".1f"))
        t3 = base.mark_text(align="right", baseline="alphabetic", dx=-60, dy=132,
                            font=FONT, fontSize=43, color="#404040").encode(
            x=ex, y=ey, text=alt.value("Y"))
        t4 = base.mark_text(align="right", baseline="alphabetic", dx=-28, dy=132,
                            font=FONT, fontSize=43, fontWeight="bold", color="#1c9cf2").encode(
            x=ex, y=ey, text=alt.Text("y:Q", format="~g"))
        layers += [tip_box, ring, dot, t1, t2, t3, t4]

    exp1 = alt.Chart(pd.DataFrame({"t": [EXP_BASE]})).mark_text(
        align="right", baseline="alphabetic", font=FONT, fontSize=42, color=TEXT_COLOR).encode(
        x=alt.value(W - 21), y=alt.value(H + 125), text="t:N")
    exp2 = alt.Chart(pd.DataFrame({"t": [EXP_POWER]})).mark_text(
        align="left", baseline="alphabetic", font=FONT, fontSize=28, color=TEXT_COLOR).encode(
        x=alt.value(W - 15), y=alt.value(H + 103), text="t:N")
    layers += [exp1, exp2]

    title = alt.TitleParams(caption, orient="bottom", anchor="middle", frame="group",
                            dx=-60, offset=50, font=SERIF, fontSize=68,
                            fontWeight="bold", color="black")
    return alt.layer(*layers).resolve_scale(x="shared", y="shared").resolve_axis(
        x="independent", y="independent").properties(width=W, height=H, title=title)


pa = panel(a_blue, a_mid, a_red, a_red_mid, "a", SERIES_TOP, Y_DOMAIN_A, Y_TICKS_A,
           CAPTIONS[0], with_target=True)
pb = panel(b_blue, b_mid, b_red, b_red_mid, "b", SERIES_TOP, Y_DOMAIN_B, Y_TICKS_B, CAPTIONS[1])
pc = panel(c_blue, c_mid, c_red, c_red_mid, "c", SERIES_BOTTOM, Y_DOMAIN_C, Y_TICKS_C, CAPTIONS[2])
pd_ = panel(d_blue, d_mid, d_red, d_red_mid, "d", SERIES_BOTTOM, Y_DOMAIN_D, Y_TICKS_D, CAPTIONS[3])

row1 = alt.hconcat(pa, pb, spacing=168, bounds="flush").resolve_scale(
    color="independent", shape="independent", size="independent")
row2 = alt.hconcat(pc, pd_, spacing=168, bounds="flush").resolve_scale(color="independent")

chart = alt.vconcat(row1, row2, spacing=816, bounds="flush").resolve_scale(
    color="independent").properties(
    padding={"left": 8, "top": 5, "right": 5, "bottom": 5}, background="white"
).configure_view(stroke=TEXT_COLOR, strokeWidth=2).configure_axis(
    labelFont=FONT, labelFontSize=40, labelColor=TEXT_COLOR,
    titleFont=FONT, titleFontSize=45, titleFontWeight="normal", titleColor=TEXT_COLOR,
    tickColor=TEXT_COLOR, tickWidth=1.5,
).configure_legend(
    symbolType="stroke", symbolSize=19044, symbolStrokeWidth=2, clipHeight=46,
    rowPadding=2, padding=6, symbolOffset=7, labelOffset=15, labelFont=FONT,
    labelFontSize=37, labelColor="black", labelLimit=1000, strokeColor=TEXT_COLOR,
    fillColor="white", cornerRadius=0, symbolFillColor="transparent",
)

chart.save("out.html", embed_options={"renderer": "svg", "actions": False})
